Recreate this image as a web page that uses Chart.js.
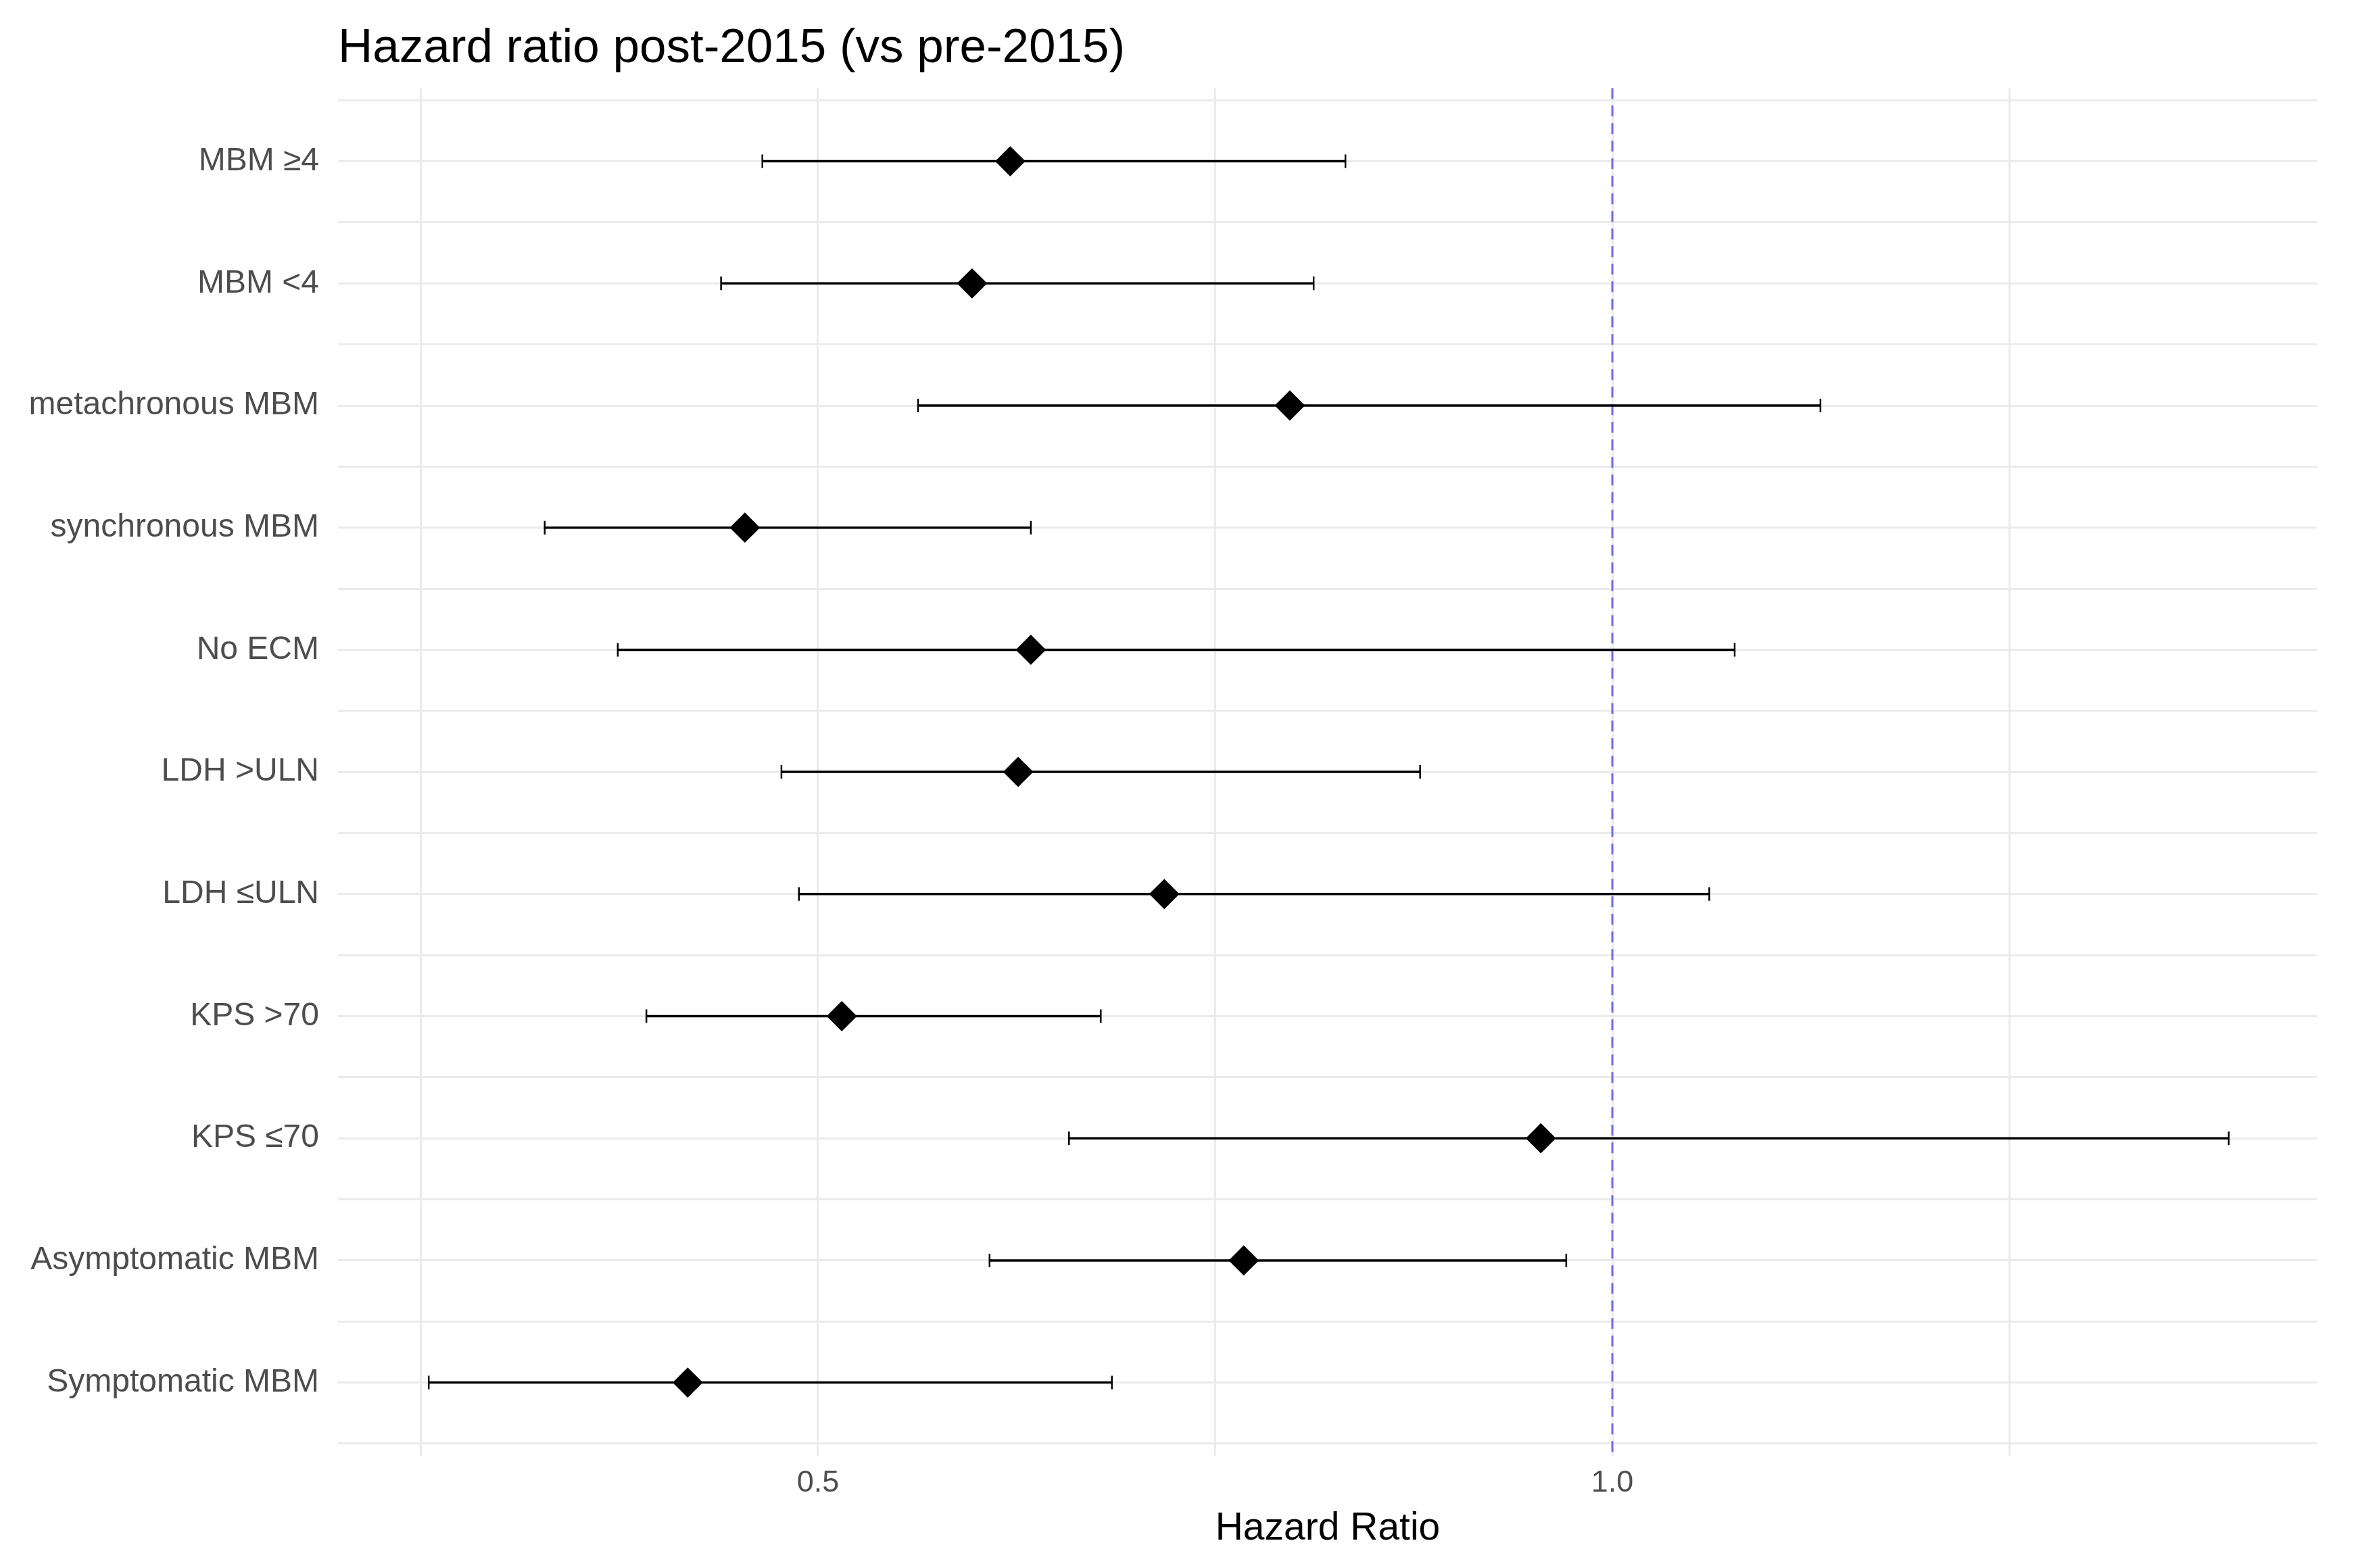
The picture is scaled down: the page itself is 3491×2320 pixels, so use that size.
<!DOCTYPE html>
<html lang="en">
<head>
  <meta charset="UTF-8" />
  <title>Hazard ratio post-2015 (vs pre-2015)</title>
  <script src="https://cdn.jsdelivr.net/npm/chart.js"></script>
  <style>
    html, body { margin: 0; padding: 0; background: #fff; }
    .chart-box { width: 3491px; height: 2320px; position: relative; }
  </style>
</head>
<body>
  <div class="chart-box">
    <canvas id="forest"></canvas>
  </div>

  <script>
    // subgroups, top to bottom
    const groups = [
      'MBM \u22654', 'MBM <4', 'metachronous MBM', 'synchronous MBM', 'No ECM',
      'LDH >ULN', 'LDH \u2264ULN', 'KPS >70', 'KPS \u226470',
      'Asymptomatic MBM', 'Symptomatic MBM'
    ];
    const hazard = [0.621, 0.597, 0.797, 0.454, 0.634, 0.626, 0.718, 0.515, 0.955, 0.768, 0.418];
    const lower  = [0.465, 0.439, 0.563, 0.328, 0.374, 0.477, 0.488, 0.392, 0.658, 0.608, 0.255];
    const upper  = [0.832, 0.812, 1.131, 0.634, 1.077, 0.879, 1.061, 0.678, 1.388, 0.971, 0.685];
    const xTickLabels = { 0.5: '0.5', 1: '1.0' };
    const refValue = 1;

    const font = '"Liberation Sans", Arial, sans-serif';
    const grey = '#4D4D4D';
    const yMin = -0.6, yMax = groups.length - 1 + 0.6;

    // confidence intervals, one line per subgroup with end caps
    const ciSets = groups.map((g, i) => ({
      type: 'line',
      label: g,
      data: [{ x: lower[i], y: i }, { x: upper[i], y: i }],
      showLine: true,
      borderColor: '#000',
      borderWidth: 3.5,
      pointStyle: 'line',
      rotation: 90,
      pointRadius: 10,
      pointBorderWidth: 2.5,
      pointBorderColor: '#000'
    }));

    new Chart(document.getElementById('forest'), {
      type: 'scatter',
      data: {
        datasets: [
          {
            label: 'HR',
            data: hazard.map((v, i) => ({ x: v, y: i })),
            pointStyle: 'rectRot',
            pointRadius: 21,
            backgroundColor: '#000',
            borderColor: '#000',
            borderWidth: 2
          },
          ...ciSets,
          {
            type: 'line',
            label: 'ref',
            data: [{ x: refValue, y: yMin }, { x: refValue, y: yMax }],
            showLine: true,
            borderColor: '#6B6BF0',
            borderWidth: 3,
            borderDash: [16, 10],
            pointRadius: 0
          }
        ]
      },
      options: {
        responsive: true,
        maintainAspectRatio: false,
        devicePixelRatio: 1,
        animation: false,
        events: [],
        layout: { padding: { left: 0, right: 63, top: 0, bottom: 0 } },
        plugins: {
          legend: { display: false },
          tooltip: { enabled: false },
          title: {
            display: true,
            text: 'Hazard ratio post-2015 (vs pre-2015)',
            align: 'start',
            fullSize: false,
            color: '#000',
            font: { family: font, size: 71, weight: 'normal' },
            padding: { top: 30, bottom: 15 }
          }
        },
        scales: {
          x: {
            type: 'linear',
            min: 0.1979,
            max: 1.4438,
            border: { display: false },
            grid: { color: '#EBEBEB', lineWidth: 3, drawTicks: false },
            ticks: {
              stepSize: 0.25,
              includeBounds: false,
              autoSkip: false,
              maxRotation: 0,
              padding: 14,
              color: grey,
              font: { family: font, size: 45 },
              callback: v => xTickLabels[v] || ''
            },
            title: {
              display: true,
              text: 'Hazard Ratio',
              color: '#000',
              font: { family: font, size: 57 },
              padding: { top: 0, bottom: 24 }
            },
            afterFit: s => { s.height = 166; }
          },
          y: {
            type: 'linear',
            min: yMin,
            max: yMax,
            reverse: true,
            border: { display: false },
            grid: { color: '#EBEBEB', lineWidth: 3, drawTicks: false },
            ticks: {
              stepSize: 0.5,
              includeBounds: false,
              autoSkip: false,
              padding: 28,
              color: grey,
              font: { family: font, size: 48 },
              callback: v => Number.isInteger(v) ? groups[v] : ''
            },
            afterFit: s => { s.width = 500; }
          }
        }
      }
    });
  </script>
</body>
</html>
